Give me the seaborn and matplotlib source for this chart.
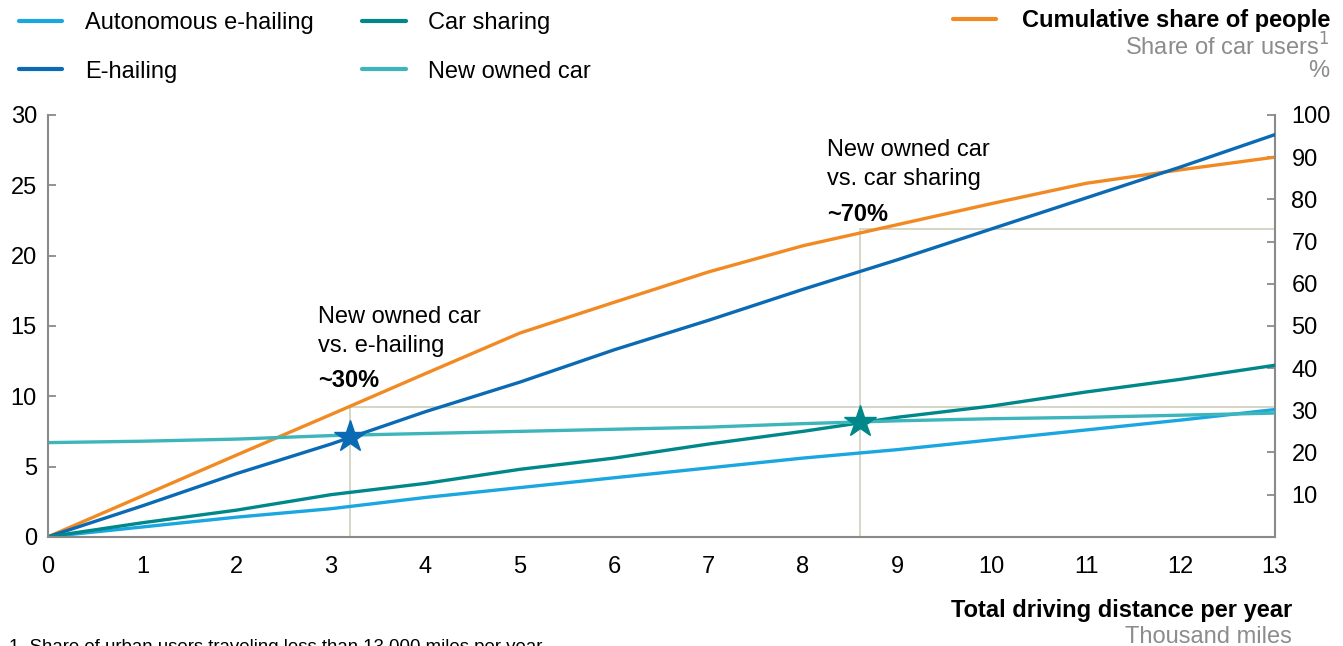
import numpy as np, matplotlib
matplotlib.use("Agg")
import matplotlib.pyplot as plt; import seaborn as sns
import pandas as pd
from matplotlib.lines import Line2D

# ── data ──
distance = [0, 1, 2, 3, 4, 5, 6, 7, 8, 9, 10, 11, 12, 13]  # thousand miles
autonomous_ehailing = [0, 0.7, 1.4, 2.0, 2.8, 3.5, 4.2, 4.9, 5.6, 6.2, 6.9, 7.6, 8.3, 9.05]
ehailing = [0, 2.2, 4.5, 6.6, 8.9, 11.0, 13.3, 15.4, 17.6, 19.7, 21.9, 24.1, 26.3, 28.6]
car_sharing = [0, 1.0, 1.9, 3.0, 3.8, 4.8, 5.6, 6.6, 7.5, 8.5, 9.3, 10.3, 11.2, 12.2]
new_owned_car = [6.7, 6.8, 6.95, 7.2, 7.35, 7.5, 7.65, 7.8, 8.05, 8.25, 8.4, 8.5, 8.65, 8.8]
cumulative_share = [0, 9.7, 19.4, 29.0, 38.7, 48.3, 55.6, 62.8, 69.0, 74.0, 79.0, 83.8, 87.0, 90.0]  # %

series_names = ["Autonomous e-hailing", "E-hailing", "Car sharing", "New owned car"]
series_colors = ["#1aa7e0", "#0a6ab4", "#00878a", "#3db5bb"]
orange = "#f28a24"

# break-even annotations
cross_x = [3.2, 8.6]
cross_y = [7.1, 8.2]          # cost level of the star
cross_share = [30.8, 73.0]    # cumulative share at that distance (%)
star_colors = ["#0a6ab4", "#00878a"]
ann_titles = ["New owned car\nvs. e-hailing", "New owned car\nvs. car sharing"]
ann_values = ["~30%", "~70%"]

sns.set_style("white")
plt.rcParams['font.family'] = ['Liberation Sans', 'DejaVu Sans']
plt.rcParams.update({"text.color": "black", "xtick.labelcolor": "black", "ytick.labelcolor": "black"})
FS = 17

df = pd.DataFrame({"distance": distance * 4,
                   "value": autonomous_ehailing + ehailing + car_sharing + new_owned_car,
                   "series": np.repeat(series_names, len(distance))})

fig = plt.figure(figsize=(13.43, 6.46), dpi=100)
ax = fig.add_axes([0.0357, 0.169, 0.9135, 0.653])
ax2 = ax.twinx()

# reference lines (behind)
ref_c = "#d6d6c6"
for cx, cs in zip(cross_x, cross_share):
    ax2.plot([cx, cx], [0, cs], color=ref_c, lw=1.4, zorder=1)
    ax2.plot([cx, 13], [cs, cs], color=ref_c, lw=1.4, zorder=1)

sns.lineplot(data=df, x="distance", y="value", hue="series", hue_order=series_names,
             palette=series_colors, linewidth=2.4, ax=ax, legend=False)
sns.lineplot(x=distance, y=cumulative_share, color=orange, linewidth=2.4, ax=ax2)

ax.set_zorder(2); ax.patch.set_visible(False)
for cx, cy, sc in zip(cross_x, cross_y, star_colors):
    ax.plot(cx, cy, marker="*", ms=24, color=sc, mec=sc, zorder=5, clip_on=False)

ax.set_xlim(0, 13); ax.set_ylim(0, 30)
ax2.set_ylim(0, 100)
ax.set_xticks(range(0, 14)); ax.set_yticks(range(0, 31, 5))
ax2.set_yticks(range(10, 101, 10))
ax.set_xlabel(""); ax.set_ylabel(""); ax2.set_ylabel("")

spine_c = "#8a8a8a"
for a in (ax, ax2):
    for s in a.spines.values():
        s.set_color(spine_c); s.set_linewidth(1.5)
    a.spines["top"].set_visible(False)
ax.spines["right"].set_visible(False)
ax2.spines["left"].set_visible(False); ax2.spines["bottom"].set_visible(False)
ax.tick_params(axis="x", direction="in", length=6, width=1.3, color=spine_c, labelsize=FS, pad=14)
ax.tick_params(axis="y", direction="in", length=6, width=1.3, color=spine_c, labelsize=FS, pad=8)
ax2.tick_params(axis="y", direction="in", length=6, width=1.3, color=spine_c, labelsize=FS, pad=12)

# annotations
for tx, ty, vy, t, v in zip([2.86, 8.26], [14.6, 26.5], [11.1, 22.95], ann_titles, ann_values):
    ax.text(tx, ty, t, fontsize=FS, ha="left", va="center", linespacing=1.4)
    ax.text(tx, vy, v, fontsize=FS, fontweight="bold", ha="left", va="center")

# legends
handles = [Line2D([], [], color=c, lw=3) for c in series_colors]
fig.legend(handles, series_names, ncol=2, frameon=False,
           loc="upper left", bbox_to_anchor=(-0.002, 1.014), fontsize=FS,
           handlelength=1.85, handletextpad=0.95, columnspacing=2.07, labelspacing=1.12)
fig.legend([Line2D([], [], color=orange, lw=3)], ["Cumulative share of people"], frameon=False,
           loc="upper right", bbox_to_anchor=(1.0067, 1.019), prop={"size": FS, "weight": "bold"},
           handlelength=1.85, handletextpad=1.1)
grey = "#8c8c8c"
fig.text(0.990, 0.928, "Share of car users$^1$", ha="right", va="center", fontsize=FS, color=grey)
fig.text(0.990, 0.890, "%", ha="right", va="center", fontsize=FS, color=grey)

fig.text(0.962, 0.055, "Total driving distance per year", ha="right", va="center",
         fontsize=FS, fontweight="bold")
fig.text(0.962, 0.014, "Thousand miles", ha="right", va="center", fontsize=FS, color=grey)
fig.text(0.007, -0.002, "1. Share of urban users traveling less than 13,000 miles per year",
         ha="left", va="center", fontsize=13.4)

fig.savefig("out.png", dpi=100)
